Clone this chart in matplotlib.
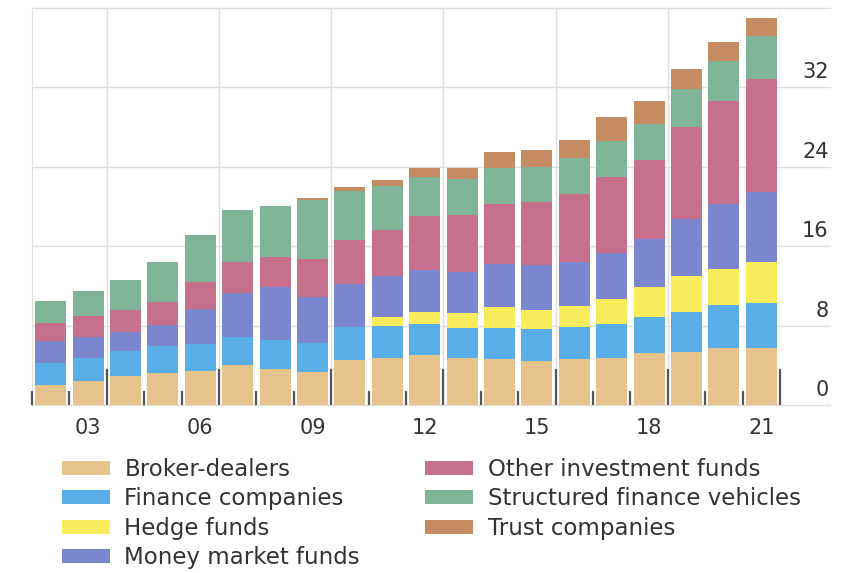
import numpy as np
import matplotlib.pyplot as plt
from matplotlib.transforms import ScaledTranslation, blended_transform_factory

plt.rcParams["font.family"] = ["DejaVu Sans"]

years = ["02", "03", "04", "05", "06", "07", "08", "09", "10", "11",
         "12", "13", "14", "15", "16", "17", "18", "19", "20", "21"]

broker_dealers = [2.0, 2.4, 2.9, 3.2, 3.4, 4.0, 3.6, 3.3, 4.5, 4.7,
                  5.0, 4.7, 4.6, 4.4, 4.6, 4.7, 5.25, 5.35, 5.7, 5.7]
finance_companies = [2.2, 2.3, 2.55, 2.75, 2.7, 2.85, 2.95, 2.9, 3.35, 3.25,
                     3.15, 3.05, 3.15, 3.25, 3.25, 3.45, 3.6, 4.0, 4.35, 4.55]
hedge_funds = [0, 0, 0, 0, 0, 0, 0, 0, 0, 0.9,
               1.2, 1.5, 2.15, 1.9, 2.1, 2.5, 3.05, 3.65, 3.65, 4.15]
money_market_funds = [2.2, 2.15, 1.9, 2.1, 3.55, 4.4, 5.35, 4.7, 4.35, 4.15,
                      4.25, 4.15, 4.3, 4.55, 4.45, 4.65, 4.8, 5.7, 6.6, 7.1]
other_investment_funds = [1.85, 2.1, 2.2, 2.35, 2.75, 3.15, 3.0, 3.8, 4.4, 4.6,
                          5.4, 5.7, 6.1, 6.4, 6.9, 7.7, 7.95, 9.3, 10.3, 11.3]
structured_finance = [2.25, 2.55, 3.05, 4.0, 4.7, 5.2, 5.1, 6.0, 5.0, 4.5,
                      4.0, 3.7, 3.6, 3.5, 3.55, 3.6, 3.7, 3.8, 4.1, 4.4]
trust_companies = [0, 0, 0, 0, 0, 0, 0, 0.2, 0.4, 0.6,
                   0.9, 1.1, 1.6, 1.65, 1.8, 2.4, 2.25, 2.1, 1.9, 1.8]

series_names = ["Broker-dealers", "Finance companies", "Hedge funds",
                "Money market funds", "Other investment funds",
                "Structured finance vehicles", "Trust companies"]
series_values = [broker_dealers, finance_companies, hedge_funds,
                 money_market_funds, other_investment_funds,
                 structured_finance, trust_companies]
colors = ["#E6C38D", "#5AAEE8", "#F9EC5C", "#7B86CC",
          "#C7708C", "#7FB498", "#C58C63"]

y_ticks = [0, 8, 16, 24, 32, 40]
y_labels = ["0", "8", "16", "24", "32", ""]

fig = plt.figure(figsize=(8.56, 5.73), dpi=100)
ax = fig.add_axes([32 / 856, 1 - 405 / 573, 748 / 856, 397 / 573])

x = np.arange(len(years))
bottom = np.zeros(len(years))
for name, vals, col in zip(series_names, series_values, colors):
    vals = np.array(vals)
    ax.bar(x, vals, width=0.83, bottom=bottom, color=col, label=name,
           zorder=3, linewidth=0)
    bottom += vals

ax.set_xlim(-0.5, len(years) - 0.5)
ax.set_ylim(0, 40)

# horizontal gridlines run past the plot to the labels on the right
grid_col = "#DEDEDE"
for yv in y_ticks:
    ax.axhline(yv, xmin=0, xmax=1.067, color=grid_col, lw=1.0,
               clip_on=False, zorder=1)

# y labels sit a little above each line
lbl_tr = blended_transform_factory(ax.transAxes, ax.transData) + \
    ScaledTranslation(0, 15 / 100, fig.dpi_scale_trans)
for yv, lab in zip(y_ticks, y_labels):
    ax.text(1.065, yv, lab, transform=lbl_tr, ha="right", va="center",
            fontsize=15, color="#333333")
ax.set_yticks([])

# x axis: boundaries between years, long ticks + grid every 3 years
edges = np.arange(len(years) + 1) - 0.5
ax.set_xticks(edges[2::3])
ax.set_xticklabels([])
ax.set_xticks(edges, minor=True)
ax.tick_params(axis="x", which="major", direction="in", length=26,
               width=1.6, color="#555555")
ax.tick_params(axis="x", which="minor", direction="in", length=10,
               width=1.6, color="#555555")
ax.xaxis.grid(True, which="major", color=grid_col, lw=1.0, zorder=1)
ax.set_axisbelow(False)

sec = ax.secondary_xaxis("bottom")
sec.set_xticks(x[1::3], [years[i] for i in x[1::3]])
sec.tick_params(length=0, pad=9, labelsize=15, labelcolor="#333333")
sec.spines["bottom"].set_visible(False)

for s in ["top", "right", "bottom"]:
    ax.spines[s].set_visible(False)
ax.spines["left"].set_color(grid_col)

fig.legend(loc="upper left", bbox_to_anchor=(62 / 856, 1 - 458 / 573),
           ncol=2, frameon=False, fontsize=16.5, handlelength=2.1,
           handleheight=0.57, handletextpad=0.62, labelspacing=0.28,
           columnspacing=2.85, borderaxespad=0, borderpad=0,
           labelcolor="#333333")

fig.savefig("out.png", dpi=100)
